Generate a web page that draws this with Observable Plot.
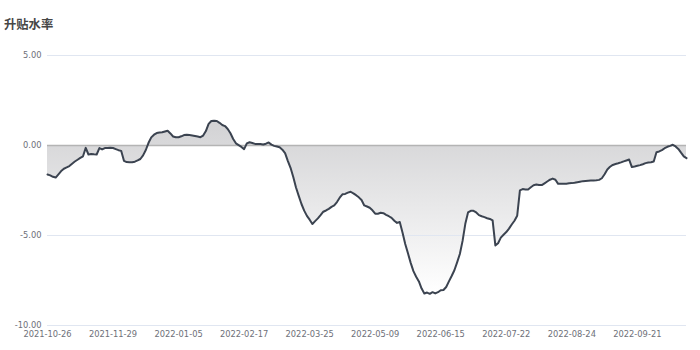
<!DOCTYPE html>
<html><head><meta charset="utf-8">
<script src="https://cdn.jsdelivr.net/npm/d3@7"></script>
<script src="https://cdn.jsdelivr.net/npm/@observablehq/plot@0.6"></script>
<style>
body{margin:0;background:#fff;width:700px;height:350px;overflow:hidden;}
#title{height:40px;box-sizing:border-box;padding:15px 0 0 4px;line-height:16px;font:bold 12.3px "Noto Sans CJK SC",sans-serif;color:#464646;}
#chart svg{display:block;}
</style>
</head><body>
<div id="title">升贴水率</div>
<div id="chart"></div>
<script>
const values = [
-1.61,-1.66,-1.74,-1.78,-1.60,-1.42,-1.29,-1.22,-1.14,-1.01,
-0.89,-0.79,-0.69,-0.60,-0.13,-0.50,-0.47,-0.49,-0.50,-0.14,
-0.22,-0.14,-0.14,-0.12,-0.14,-0.20,-0.26,-0.30,-0.85,-0.92,
-0.93,-0.93,-0.90,-0.83,-0.75,-0.55,-0.25,0.15,0.45,0.60,
0.69,0.72,0.74,0.78,0.82,0.67,0.50,0.46,0.46,0.51,
0.58,0.60,0.58,0.56,0.53,0.50,0.46,0.55,0.80,1.20,
1.36,1.38,1.36,1.26,1.14,1.08,0.92,0.68,0.36,0.12,
0.02,-0.08,-0.20,0.12,0.18,0.14,0.09,0.09,0.08,0.06,
0.10,0.17,0.05,-0.02,-0.06,-0.10,-0.23,-0.42,-0.85,-1.24,
-1.75,-2.33,-2.80,-3.25,-3.62,-3.91,-4.12,-4.36,-4.20,-4.05,
-3.87,-3.68,-3.61,-3.52,-3.41,-3.33,-3.14,-2.90,-2.71,-2.69,
-2.62,-2.57,-2.66,-2.76,-2.88,-3.03,-3.33,-3.39,-3.46,-3.60,
-3.79,-3.79,-3.74,-3.76,-3.85,-3.93,-4.02,-4.18,-4.30,-4.25,
-4.83,-5.47,-5.99,-6.52,-6.98,-7.29,-7.55,-7.95,-8.22,-8.17,
-8.24,-8.15,-8.22,-8.15,-8.04,-8.03,-7.86,-7.55,-7.25,-6.93,
-6.49,-6.03,-5.30,-4.35,-3.72,-3.63,-3.63,-3.72,-3.87,-3.93,
-3.98,-4.04,-4.08,-4.16,-5.55,-5.43,-5.12,-4.96,-4.81,-4.62,
-4.39,-4.18,-3.90,-2.49,-2.42,-2.44,-2.44,-2.32,-2.21,-2.17,
-2.20,-2.20,-2.10,-2.00,-1.90,-1.84,-1.90,-2.13,-2.13,-2.13,
-2.12,-2.10,-2.09,-2.07,-2.04,-2.01,-1.98,-1.97,-1.96,-1.95,
-1.94,-1.93,-1.91,-1.82,-1.60,-1.33,-1.18,-1.08,-1.03,-0.99,
-0.94,-0.88,-0.83,-0.78,-1.20,-1.17,-1.13,-1.09,-1.04,-0.98,
-0.95,-0.93,-0.89,-0.37,-0.33,-0.26,-0.15,-0.07,-0.02,0.04,
-0.05,-0.19,-0.40,-0.60,-0.70
];
const tickLabels = ["2021-10-26","2021-11-29","2022-01-05","2022-02-17","2022-03-25","2022-05-09","2022-06-15","2022-07-22","2022-08-24","2022-09-21"];
const tickStep = 24;
const yTicks = [5, 0, -5, -10];

const data = values.map((v, i) => ({i, v}));

const chart = Plot.plot({
  width: 700, height: 310,
  marginLeft: 47, marginRight: 14, marginTop: 15, marginBottom: 25,
  style: {fontFamily: "DejaVu Sans", fontSize: "8.3px", color: "#6e7079", background: "#fff"},
  x: {domain: [0, values.length - 1], ticks: tickLabels.map((d, k) => k * tickStep),
      tickFormat: i => tickLabels[Math.round(i / tickStep)], tickSize: 0, tickPadding: 6, label: null},
  y: {domain: [-10, 5], ticks: yTicks, tickFormat: d => d.toFixed(2), tickSize: 0, tickPadding: 6, label: null},
  marks: [
    Plot.areaY(data, {x: "i", y1: 0, y2: "v", fill: "url(#ag)"}),
    Plot.ruleY(yTicks.filter(d => d !== 0), {stroke: "#e0e6f1", strokeWidth: 1}),
    Plot.ruleY([0], {stroke: "#b4b4b4", strokeWidth: 1.6}),
    Plot.lineY(data, {x: "i", y: "v", stroke: "#3b4350", strokeWidth: 2, strokeLinejoin: "round"})
  ]
});
const defs = d3.select(chart).insert("defs", ":first-child");
const g = defs.append("linearGradient").attr("id", "ag").attr("x1", 0).attr("y1", 0).attr("x2", 0).attr("y2", 1);
g.append("stop").attr("offset", 0).attr("stop-color", "#d2d2d4");
g.append("stop").attr("offset", 1).attr("stop-color", "#ffffff");
document.getElementById("chart").appendChild(chart);
</script>
</body></html>
